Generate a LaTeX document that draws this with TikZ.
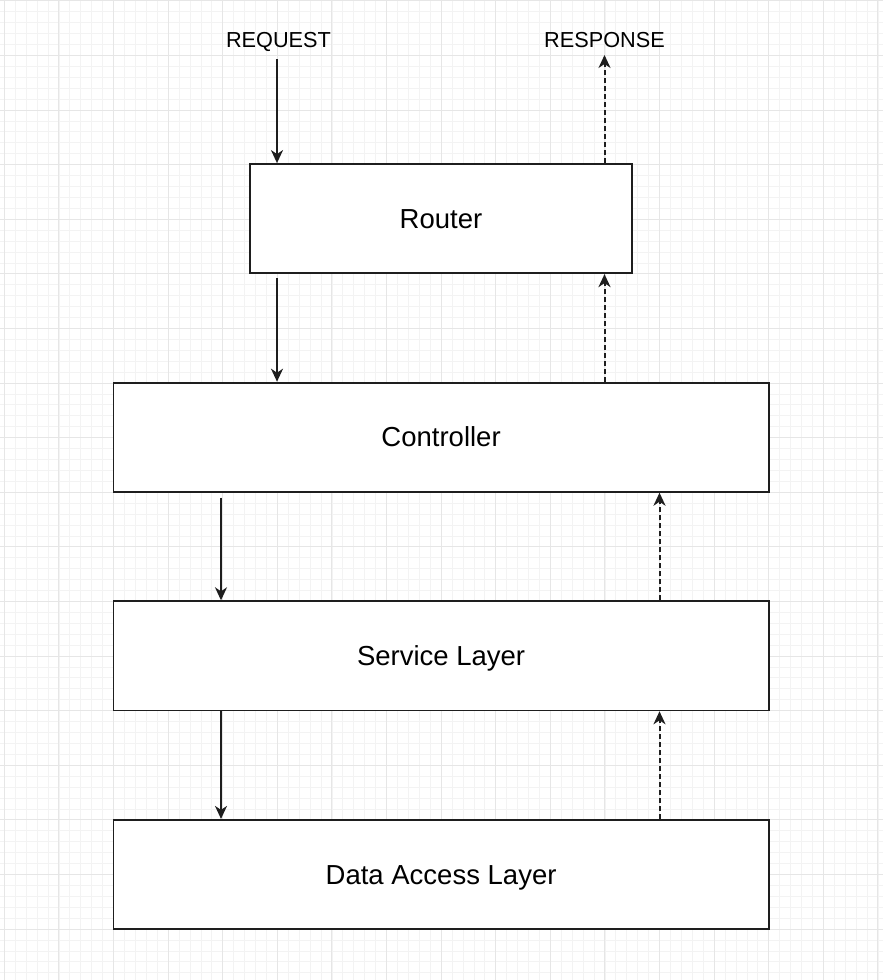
\documentclass[tikz,border=0pt]{standalone}
\usepackage{fontspec}
\setmainfont{Liberation Sans}
\usetikzlibrary{arrows.meta}
\definecolor{edge}{HTML}{1E1E1E}
\definecolor{gridminor}{HTML}{F3F3F3}
\definecolor{gridmajor}{HTML}{E6E6E6}
\tikzset{
  layerbox/.style={draw=edge, line width=1.8pt, fill=white, minimum height=109.2pt, inner sep=0pt,
    font=\fontsize{27.5}{32}\selectfont, text=black, text height=19.5pt, text depth=0pt},
  toplabel/.style={font=\fontsize{21.7}{26}\selectfont, text=black, inner sep=0pt, text height=15.5pt, text depth=0pt},
  reqarrow/.style={draw=edge, line width=1.8pt, -{Stealth[length=13pt,width=12pt,inset=4pt]}},
  resarrow/.style={draw=edge, line width=2pt, dash pattern=on 5pt off 3pt, -{Stealth[length=13pt,width=12pt,inset=4pt]}},
}
\begin{document}
\begin{tikzpicture}[x=1pt,y=-1pt]
\useasboundingbox (0,0) rectangle (883,980);
\fill[white] (0,0) rectangle (883,980);
% grid
\foreach \i in {0,...,81} {
  \pgfmathsetmacro{\xx}{4.3+10.92*\i}
  \draw[gridminor, line width=0.7pt] (\xx,0) -- (\xx,980);
}
\foreach \i in {0,...,90} {
  \pgfmathsetmacro{\yy}{0.8+10.92*\i}
  \draw[gridminor, line width=0.7pt] (0,\yy) -- (883,\yy);
}
\foreach \i in {0,...,16} {
  \pgfmathsetmacro{\xx}{4.3+54.6*\i}
  \draw[gridmajor, line width=0.9pt] (\xx,0) -- (\xx,980);
}
\foreach \i in {0,...,18} {
  \pgfmathsetmacro{\yy}{0.8+54.6*\i}
  \draw[gridmajor, line width=0.9pt] (0,\yy) -- (883,\yy);
}
% boxes
\node[layerbox, minimum width=382.2pt] (router) at (441,218.6) {Router};
\node[layerbox, minimum width=655.2pt] (ctrl) at (441.1,437.2) {Controller};
\node[layerbox, minimum width=655.2pt] (svc) at (441.1,655.8) {Service Layer};
\node[layerbox, minimum width=655.2pt] (dal) at (441.1,874.4) {Data Access Layer};
% labels
\node[toplabel] (req) at (278.5,39.5) {REQUEST};
\node[toplabel] (res) at (604.5,39.5) {RESPONSE};
\coordinate (reqstart) at (277,59);
\coordinate (restip) at (604.5,55);
% request path
\draw[reqarrow] (reqstart) -- (reqstart |- router.north);
\draw[reqarrow] ([yshift=-4pt]router.south -| reqstart) -- (reqstart |- ctrl.north);
\draw[reqarrow] ([yshift=-5pt]ctrl.south -| 221,0) -- (221,0 |- svc.north);
\draw[reqarrow] (svc.south -| 221,0) -- (221,0 |- dal.north);
% response path
\draw[resarrow] (restip |- router.north) -- (restip);
\draw[resarrow] (restip |- ctrl.north) -- (restip |- router.south);
\draw[resarrow] (svc.north -| 659.5,0) -- (659.5,0 |- ctrl.south);
\draw[resarrow] (dal.north -| 659.5,0) -- (659.5,0 |- svc.south);
\end{tikzpicture}
\end{document}
